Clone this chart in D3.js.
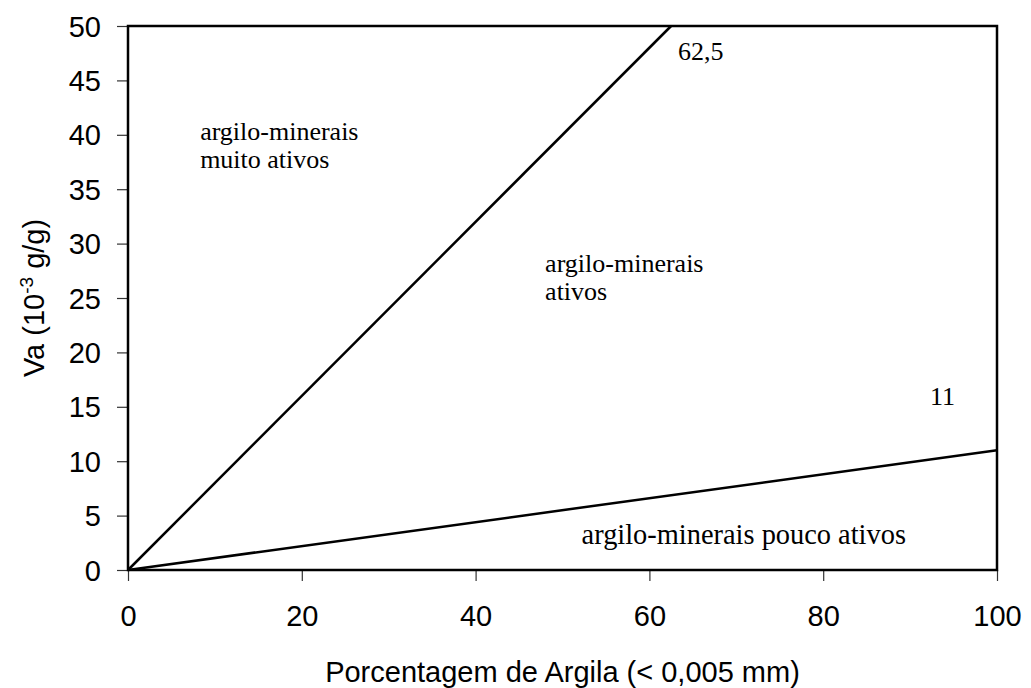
<!DOCTYPE html>
<html>
<head>
<meta charset="utf-8">
<script src="https://cdn.jsdelivr.net/npm/d3@7"></script>
<style>
  html, body { margin: 0; padding: 0; background: #fff; }
  svg { display: block; }
</style>
</head>
<body>
<svg id="chart" width="1031" height="688"></svg>
<script>
// ---- data ----
const xTicks = [0, 20, 40, 60, 80, 100];
const yTicks = [0, 5, 10, 15, 20, 25, 30, 35, 40, 45, 50];
const lineVeryActive = [[0, 0], [62.5, 50]];
const lineLowActive = [[0, 0], [100, 11]];
const xTitle = "Porcentagem de Argila (< 0,005 mm)";
const regionLabels = [
  { lines: ["argilo-minerais", "muito ativos"], x: 8.3, y: 39.5, size: 26 },
  { lines: ["argilo-minerais", "ativos"], x: 48.0, y: 27.4, size: 26 },
  { lines: ["argilo-minerais pouco ativos"], x: 52.2, y: 2.4, size: 28.4 }
];
const valueLabels = [
  { text: "62,5", x: 63.3, y: 46.9 },
  { text: "11", x: 92.3, y: 15.2 }
];

// ---- layout ----
const svg = d3.select("#chart");
const mLeft = 128, mRight = 997, mTop = 26, mBottom = 570;
const x = d3.scaleLinear().domain([0, 100]).range([mLeft, mRight]);
const y = d3.scaleLinear().domain([0, 50]).range([mBottom, mTop]);
const sansFont = "'Liberation Sans', Arial, sans-serif";
const serifFont = "'Liberation Serif', 'Times New Roman', serif";

// axes
const xAxis = svg.append("g").attr("transform", `translate(0,${mBottom})`)
  .call(d3.axisBottom(x).tickValues(xTicks).tickSize(11).tickPadding(24).tickFormat(d3.format("d")));
const yAxis = svg.append("g").attr("transform", `translate(${mLeft},0)`)
  .call(d3.axisLeft(y).tickValues(yTicks).tickSize(11).tickPadding(16).tickFormat(d3.format("d")));
[xAxis, yAxis].forEach(a => {
  a.select(".domain").remove();
  a.selectAll(".tick line").attr("stroke", "#333").attr("stroke-width", 1.2);
  a.selectAll(".tick text").attr("fill", "#000").style("font-family", sansFont).style("font-size", "29px");
});
yAxis.selectAll(".tick text").attr("dy", "0.35em");

// frame
svg.append("rect")
  .attr("x", x(0)).attr("y", y(50))
  .attr("width", x(100) - x(0)).attr("height", y(0) - y(50))
  .attr("fill", "none").attr("stroke", "#000").attr("stroke-width", 2.5);

// lines
const line = d3.line().x(d => x(d[0])).y(d => y(d[1]));
[lineVeryActive, lineLowActive].forEach(dat => {
  svg.append("path").datum(dat).attr("d", line)
    .attr("fill", "none").attr("stroke", "#000").attr("stroke-width", 2.5);
});

// region labels
regionLabels.forEach(r => {
  const t = svg.append("text").attr("x", x(r.x)).attr("y", y(r.y))
    .style("font-family", serifFont).style("font-size", r.size + "px").attr("fill", "#000");
  r.lines.forEach((s, i) => {
    t.append("tspan").attr("x", x(r.x)).attr("dy", i === 0 ? 0 : 28).text(s);
  });
});
valueLabels.forEach(v => {
  svg.append("text").attr("x", x(v.x)).attr("y", y(v.y)).text(v.text)
    .style("font-family", serifFont).style("font-size", "26px").attr("fill", "#000");
});

// axis titles
svg.append("text").attr("x", (mLeft + mRight) / 2).attr("y", 682)
  .attr("text-anchor", "middle").text(xTitle)
  .style("font-family", sansFont).style("font-size", "29px").attr("fill", "#000");

const yt = svg.append("text")
  .attr("transform", `translate(44,${(mTop + mBottom) / 2}) rotate(-90)`)
  .attr("text-anchor", "middle")
  .style("font-family", sansFont).style("font-size", "29px").attr("fill", "#000");
yt.append("tspan").text("Va (10");
yt.append("tspan").attr("dy", -11).style("font-size", "19px").text("-3");
yt.append("tspan").attr("dy", 11).text(" g/g)");
</script>
</body>
</html>
